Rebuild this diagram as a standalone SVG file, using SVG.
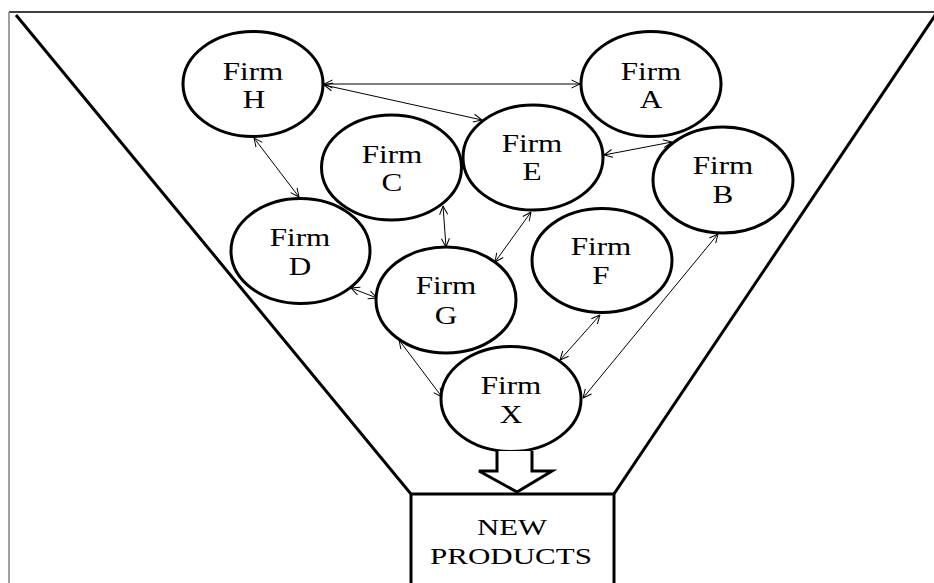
<svg xmlns="http://www.w3.org/2000/svg" width="934" height="583" viewBox="0 0 934 583">
  <style>
    .frame { fill: none; stroke: #000; stroke-width: 1.5; }
    .funnel { fill: none; stroke: #000; stroke-width: 3; stroke-linejoin: miter; }
    .firm ellipse { fill: #fff; stroke: #000; stroke-width: 3; }
    .lbl { font-family: "Liberation Serif", "Times New Roman", serif; font-size: 26px; fill: #000; text-anchor: middle; }
    .out { font-family: "Liberation Serif", "Times New Roman", serif; font-size: 22.5px; fill: #000; text-anchor: middle; }
    .link { fill: none; stroke: #000; stroke-width: 1; marker-start: url(#tip); marker-end: url(#tip); }
  </style>
  <defs>
    <marker id="tip" viewBox="0 0 10 10" refX="9.5" refY="5" markerWidth="10" markerHeight="10" markerUnits="userSpaceOnUse" orient="auto-start-reverse">
      <path d="M1,1 L9.5,5 L1,9" fill="none" stroke="#000" stroke-width="1"/>
    </marker>
  </defs>

  <rect width="934" height="583" fill="#fff"/>

  <!-- page frame -->
  <path d="M9,12 H934" class="frame"/>
  <path d="M9,12 V583" fill="none" stroke="#808080" stroke-width="1.5"/>

  <!-- funnel walls and output box -->
  <g id="funnel">
    <path class="funnel" d="M16,15 L411,494 V583"/>
    <path class="funnel" d="M936,14 L614,494 V583"/>
    <path class="funnel" d="M411,494 H614"/>
  </g>

  <!-- links between firms -->
  <g id="connectors">
    <path class="link" d="M324,84 L580,84"/>
    <path class="link" d="M324,85 L482,120"/>
    <path class="link" d="M254,138 L299,197"/>
    <path class="link" d="M443,206 L446,247"/>
    <path class="link" d="M531,212 L495,262"/>
    <path class="link" d="M604,155 L672,142"/>
    <path class="link" d="M351,288 L377,298"/>
    <path class="link" d="M399,340 L442,397"/>
    <path class="link" d="M600,315 L560,360"/>
    <path class="link" d="M718,234 L583,398"/>
  </g>

  <g id="firm-h" class="firm">
    <ellipse cx="253" cy="84" rx="70" ry="52.5"/>
    <text class="lbl" x="253" y="80" textLength="60.5" lengthAdjust="spacingAndGlyphs">Firm</text>
    <text class="lbl" x="254" y="108" textLength="22.5" lengthAdjust="spacingAndGlyphs">H</text>
  </g>
  <g id="firm-a" class="firm">
    <ellipse cx="651" cy="84" rx="70" ry="52.5"/>
    <text class="lbl" x="651" y="79.5" textLength="60.5" lengthAdjust="spacingAndGlyphs">Firm</text>
    <text class="lbl" x="651" y="108" textLength="22.5" lengthAdjust="spacingAndGlyphs">A</text>
  </g>
  <g id="firm-c" class="firm">
    <ellipse cx="391.5" cy="167.5" rx="70" ry="52.5"/>
    <text class="lbl" x="392" y="162.5" textLength="60.5" lengthAdjust="spacingAndGlyphs">Firm</text>
    <text class="lbl" x="392" y="191" textLength="20.8" lengthAdjust="spacingAndGlyphs">C</text>
  </g>
  <g id="firm-e" class="firm">
    <ellipse cx="533" cy="157.5" rx="70" ry="52.5"/>
    <text class="lbl" x="532" y="152" textLength="60.5" lengthAdjust="spacingAndGlyphs">Firm</text>
    <text class="lbl" x="532" y="180" textLength="19.1" lengthAdjust="spacingAndGlyphs">E</text>
  </g>
  <g id="firm-b" class="firm">
    <ellipse cx="723" cy="180" rx="70" ry="53"/>
    <text class="lbl" x="723" y="173.5" textLength="60.5" lengthAdjust="spacingAndGlyphs">Firm</text>
    <text class="lbl" x="723" y="203" textLength="20.8" lengthAdjust="spacingAndGlyphs">B</text>
  </g>
  <g id="firm-d" class="firm">
    <ellipse cx="300.5" cy="251" rx="69.5" ry="52.5"/>
    <text class="lbl" x="300" y="246" textLength="60.5" lengthAdjust="spacingAndGlyphs">Firm</text>
    <text class="lbl" x="300" y="274.5" textLength="22.5" lengthAdjust="spacingAndGlyphs">D</text>
  </g>
  <g id="firm-f" class="firm">
    <ellipse cx="602" cy="260.5" rx="70" ry="52"/>
    <text class="lbl" x="601" y="255" textLength="60.5" lengthAdjust="spacingAndGlyphs">Firm</text>
    <text class="lbl" x="601" y="284" textLength="17.3" lengthAdjust="spacingAndGlyphs">F</text>
  </g>
  <g id="firm-g" class="firm">
    <ellipse cx="446" cy="300" rx="70" ry="53"/>
    <text class="lbl" x="446" y="293.5" textLength="60.5" lengthAdjust="spacingAndGlyphs">Firm</text>
    <text class="lbl" x="446" y="323.5" textLength="22.5" lengthAdjust="spacingAndGlyphs">G</text>
  </g>
  <g id="firm-x" class="firm">
    <ellipse cx="511" cy="399" rx="70" ry="52.5"/>
    <text class="lbl" x="511" y="393.5" textLength="60.5" lengthAdjust="spacingAndGlyphs">Firm</text>
    <text class="lbl" x="511" y="422.5" textLength="22.5" lengthAdjust="spacingAndGlyphs">X</text>
  </g>

  <!-- hollow block arrow from Firm X into the output box -->
  <g id="output-arrow">
    <path d="M497,451 V471 H479 L517,492 L552,471 H532 V451" fill="#fff" stroke="#000" stroke-width="3" stroke-linejoin="miter"/>
  </g>

  <g id="new-products">
    <text class="out" x="512" y="535" textLength="70" lengthAdjust="spacingAndGlyphs">NEW</text>
    <text class="out" x="511" y="564" textLength="162" lengthAdjust="spacingAndGlyphs">PRODUCTS</text>
  </g>
</svg>
